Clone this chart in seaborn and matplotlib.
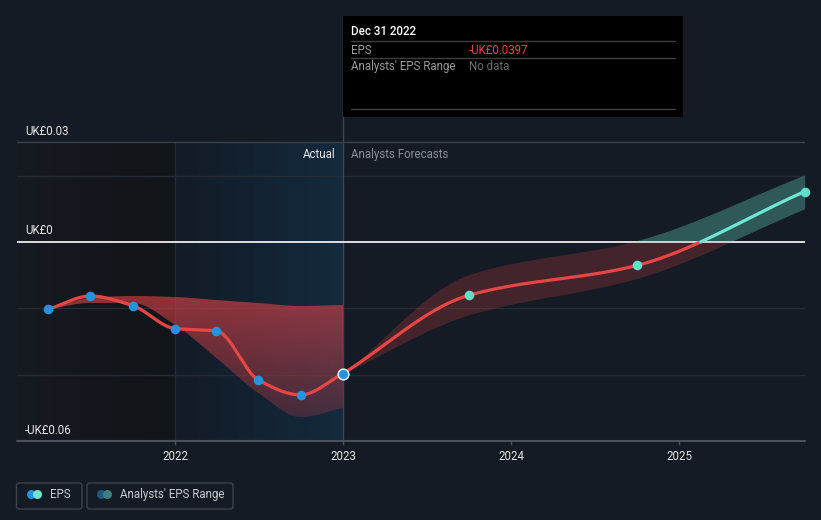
import numpy as np
import pandas as pd
import matplotlib
matplotlib.use("Agg")
import matplotlib.pyplot as plt
import seaborn as sns
from matplotlib.patches import Rectangle, FancyBboxPatch, Ellipse
from matplotlib.lines import Line2D

# ---------------- data ----------------
eps_dates = ["2021-03-31", "2021-06-30", "2021-09-30", "2021-12-31",
             "2022-03-31", "2022-06-30", "2022-09-30", "2022-12-31"]
eps_values = [-0.0203, -0.0163, -0.0192, -0.0261, -0.0268, -0.0416, -0.0461, -0.0397]
past_range_upper = [-0.0203, -0.0169, -0.0163, -0.0166, -0.0175, -0.0184, -0.0193, -0.0190]
past_range_lower = [-0.0203, -0.0184, -0.0184, -0.0250, -0.0350, -0.0455, -0.0528, -0.0500]

fc_dates = ["2022-12-31", "2023-09-30", "2024-09-30", "2025-09-30"]
fc_values = [-0.0397, -0.0161, -0.0071, 0.0152]
fc_upper = [-0.0397, -0.0099, 0.0004, 0.0202]
fc_lower = [-0.0397, -0.0220, -0.0110, 0.0100]

year_ticks = [2022, 2023, 2024, 2025]
y_label_values = [0.03, 0.0, -0.06]
y_label_texts = ["UK£0.03", "UK£0", "-UK£0.06"]
grid_values = [0.02, -0.02, -0.04]

tooltip_date = "Dec 31 2022"
tooltip_eps = "-UK£0.0397"

# ---------------- helpers ----------------
def dec_year(s):
    t = pd.Timestamp(s)
    days = 366 if t.is_leap_year else 365
    return t.year + t.dayofyear / days


def pchip(x, y, xs):
    x = np.asarray(x, float); y = np.asarray(y, float)
    h = np.diff(x); d = np.diff(y) / h
    n = len(x); m = np.zeros(n)
    m[0], m[-1] = d[0], d[-1]
    for k in range(1, n - 1):
        if d[k - 1] * d[k] <= 0:
            m[k] = 0
        else:
            w1 = 2 * h[k] + h[k - 1]; w2 = h[k] + 2 * h[k - 1]
            m[k] = (w1 + w2) / (w1 / d[k - 1] + w2 / d[k])
    idx = np.clip(np.searchsorted(x, xs) - 1, 0, n - 2)
    t = (xs - x[idx]) / h[idx]
    h00 = 2 * t**3 - 3 * t**2 + 1; h10 = t**3 - 2 * t**2 + t
    h01 = -2 * t**3 + 3 * t**2; h11 = t**3 - t**2
    return h00 * y[idx] + h10 * h[idx] * m[idx] + h01 * y[idx + 1] + h11 * h[idx] * m[idx + 1]


W, H = 821, 520
def fx(px):
    return px / W
def fy(py):
    return 1 - py / H

BG = "#151b24"
RED = "#e84545"
CYAN = "#6ee6d2"
BLUE = "#2394df"
FS = 8.3

sns.set_theme(style="dark")
plt.rcParams["font.family"] = ["Roboto", "DejaVu Sans"]

fig = plt.figure(figsize=(8.21, 5.2), dpi=100, facecolor=BG)
ax = fig.add_axes([fx(17), fy(441), fx(805) - fx(17), fy(16) - fy(441)])
ax.set_facecolor(BG)

ex = np.array([dec_year(d) for d in eps_dates])
fx_ = np.array([dec_year(d) for d in fc_dates])
X0, X1 = 2021.0595, 2025.75
Y0, Y1 = -0.06, 0.0681
now_x = ex[-1]
PXY = 168.0  # pixels per year

# shaded background regions
grad = np.linspace(0, 1, 64).reshape(1, -1)
c_a = np.array([0x16, 0x1a, 0x21]) / 255; c_b = np.array([0x11, 0x14, 0x18]) / 255
img = c_a + (c_b - c_a) * grad[..., None]
ax.imshow(img, extent=[X0, 2022, -0.06, 0.03], aspect="auto", origin="lower", zorder=0)
c_a = np.array([0x12, 0x1b, 0x26]) / 255; c_b = np.array([0x14, 0x2a, 0x3e]) / 255
img = c_a + (c_b - c_a) * grad[..., None]
ax.imshow(img, extent=[2022, now_x, -0.06, 0.03], aspect="auto", origin="lower", zorder=0)
ax.axvline(2022, ymin=0, ymax=(0.03 - Y0) / (Y1 - Y0), color="#1d2a39", lw=1, zorder=0.5)

# gridlines
for g in grid_values:
    ax.axhline(g, color="#252b34", lw=1, zorder=1)
ax.axhline(0.03, color="#3a414b", lw=1, zorder=1)
ax.axhline(0.0, color="white", lw=1.2, zorder=1.5)
ax.axhline(-0.06, color="#4b5059", lw=1.5, zorder=1.5, clip_on=False)
ax.axvline(now_x, color="#3d4653", lw=1, zorder=1)

# past analyst range band with vertical red gradient
xs_p = np.linspace(ex[0], ex[-1], 400)
up_p = pchip(ex, past_range_upper, xs_p)
lo_p = pchip(ex, past_range_lower, xs_p)
poly = ax.fill_between(xs_p, lo_p, up_p, facecolor="none", lw=0)
ny = 200
alpha = np.linspace(0.22, 0.6, ny).reshape(-1, 1)
rgba = np.zeros((ny, 2, 4))
rgba[..., 0] = 0.91; rgba[..., 1] = 0.27; rgba[..., 2] = 0.29
rgba[..., 3] = alpha
im = ax.imshow(rgba, extent=[ex[0], ex[-1], lo_p.min(), up_p.max()], aspect="auto",
               origin="lower", zorder=2)
im.set_clip_path(poly.get_paths()[0], transform=ax.transData)

# forecast band: red below zero, teal above
xs_f = np.linspace(fx_[0], fx_[-1], 600)
up_f = pchip(fx_, fc_upper, xs_f)
lo_f = pchip(fx_, fc_lower, xs_f)
ax.fill_between(xs_f, np.minimum(lo_f, 0), np.minimum(up_f, 0), where=lo_f < 0,
                color=RED, alpha=0.22, lw=0, zorder=2)
ax.fill_between(xs_f, np.maximum(lo_f, 0), np.maximum(up_f, 0), where=up_f > 0,
                color=CYAN, alpha=0.3, lw=0, zorder=2)

# past EPS line
ys_p = pchip(ex, eps_values, xs_p)
sns.lineplot(x=xs_p, y=ys_p, ax=ax, color=RED, lw=2.3, estimator=None, sort=False, zorder=3)

# forecast line split at zero
ys_f = pchip(fx_, fc_values, xs_f)
k = np.where((ys_f[:-1] <= 0) & (ys_f[1:] > 0))[0][0]
xc = xs_f[k] + (0 - ys_f[k]) * (xs_f[k + 1] - xs_f[k]) / (ys_f[k + 1] - ys_f[k])
neg = pd.DataFrame({"x": np.append(xs_f[:k + 1], xc), "y": np.append(ys_f[:k + 1], 0)})
pos = pd.DataFrame({"x": np.insert(xs_f[k + 1:], 0, xc), "y": np.insert(ys_f[k + 1:], 0, 0)})
sns.lineplot(data=neg, x="x", y="y", ax=ax, color=RED, lw=2.3, estimator=None, sort=False, zorder=3)
sns.lineplot(data=pos, x="x", y="y", ax=ax, color=CYAN, lw=2.3, estimator=None, sort=False, zorder=3)

# points
sns.scatterplot(x=ex[:-1], y=eps_values[:-1], ax=ax, color=BLUE, s=48, linewidth=0, zorder=4)
sns.scatterplot(x=fx_[1:], y=fc_values[1:], ax=ax, color="#5fe0c8", s=48, linewidth=0,
                zorder=4, clip_on=False)
sns.scatterplot(x=[ex[-1]], y=[eps_values[-1]], ax=ax, color=BLUE, s=60,
                edgecolor="white", linewidth=1, zorder=5)

ax.set_xlim(X0, X1)
ax.set_ylim(Y0, Y1)
ax.set_xticks(year_ticks)
ax.set_xticklabels([str(y) for y in year_ticks])
ax.set_yticks([])
ax.set_xlabel(""); ax.set_ylabel("")
ax.tick_params(axis="x", colors="#4b5059", length=3, width=1, pad=3.5, labelsize=FS,
               labelcolor="#e6e6e6", bottom=True, direction="out")
for s in ax.spines.values():
    s.set_visible(False)
ax.grid(False)

# y labels
for v, t in zip(y_label_values, y_label_texts):
    ax.text(X0 + (25 - 17) / PXY, v + 0.0033, t, fontsize=FS, color="#e6e6e6",
            va="center", ha="left", zorder=6)

ax.text(X0 + (335 - 17) / PXY, 0.03 - 0.0036, "Actual", fontsize=FS, color="#e6e6e6",
        ha="right", va="center", zorder=6)
ax.text(X0 + (351 - 17) / PXY, 0.03 - 0.0036, "Analysts Forecasts", fontsize=FS,
        color="#8b9098", ha="left", va="center", zorder=6)

# tooltip
fig.patches.append(Rectangle((fx(343), fy(117)), fx(683) - fx(343), fy(16) - fy(117),
                             transform=fig.transFigure, facecolor="black", edgecolor="none", zorder=5))
for yy in [41.5, 58.3, 109]:
    fig.lines.append(Line2D([fx(351), fx(675)], [fy(yy), fy(yy)], transform=fig.transFigure,
                            color="#3e3e3e", lw=1, zorder=6))
fig.text(fx(351), fy(31.5), tooltip_date, fontsize=FS, color="white", fontweight="medium",
         va="center", ha="left", zorder=7)
fig.text(fx(351), fy(50), "EPS", fontsize=FS, color="#9a9a9a", va="center", ha="left", zorder=7)
fig.text(fx(469), fy(50), tooltip_eps, fontsize=FS, color=RED, va="center", ha="left", zorder=7)
fig.text(fx(351), fy(66.5), "Analysts' EPS Range", fontsize=FS, color="#9a9a9a", va="center",
         ha="left", zorder=7)
fig.text(fx(469), fy(66.5), "No data", fontsize=FS, color="#6e6e6e", va="center", ha="left", zorder=7)

# legend
def box(x0, y0, x1, y1):
    fig.patches.append(FancyBboxPatch((fx(x0), fy(y1)), fx(x1) - fx(x0), fy(y0) - fy(y1),
                                      boxstyle="round,pad=0,rounding_size=0.004",
                                      transform=fig.transFigure, facecolor="none",
                                      edgecolor="#3d434d", lw=1))

def dot(x, y, c):
    fig.patches.append(Ellipse((fx(x), fy(y)), 9.0 / W, 9.0 / H, transform=fig.transFigure,
                               facecolor=c, edgecolor="none"))

box(16.5, 483, 82, 509)
dot(31.5, 494.5, BLUE); dot(37.5, 494.5, CYAN)
fig.text(fx(50), fy(494.5), "EPS", fontsize=FS, color="#c8cbd0", va="center", ha="left")
box(87, 483, 233, 509)
dot(101.5, 494.5, "#1f5a85"); dot(107.5, 494.5, "#3d7f7a")
fig.text(fx(120), fy(494.5), "Analysts' EPS Range", fontsize=FS, color="#c8cbd0",
         va="center", ha="left")

fig.savefig("out.png", dpi=100, facecolor=BG)
